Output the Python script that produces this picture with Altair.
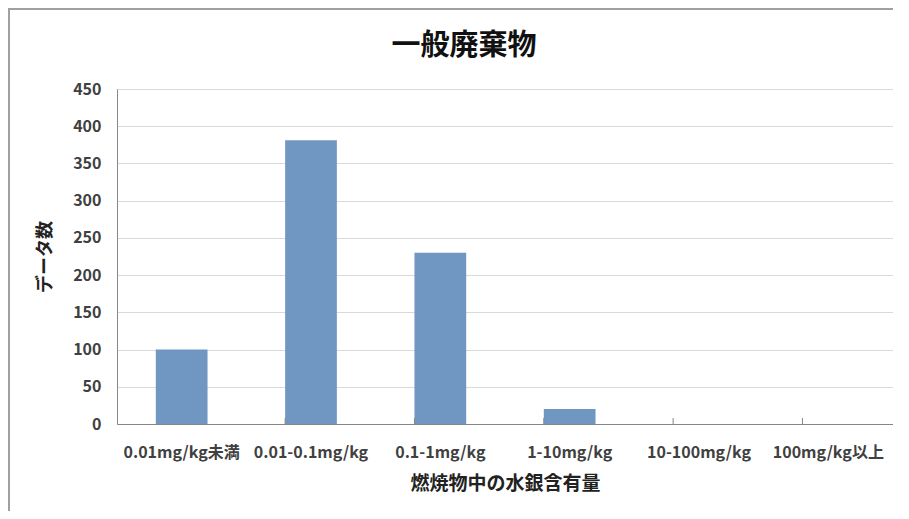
import altair as alt
import pandas as pd

title_text = ["一般廃棄物"]
categories = ["0.01mg/kg未満", "0.01-0.1mg/kg", "0.1-1mg/kg", "1-10mg/kg", "10-100mg/kg", "100mg/kg以上"]
counts = [100, 381, 230, 20, 0, 0]
y_ticks = [0, 50, 100, 150, 200, 250, 300, 350, 400, 450]

df = pd.DataFrame({"cat": categories, "n": counts})
df_ticks = pd.DataFrame({"cat": categories[1:]})
df_title = pd.DataFrame({"t": title_text})

FONT = "Noto Sans CJK JP"
GRAY = "#868686"

x_enc = alt.X("cat:N", sort=categories, title="燃焼物中の水銀含有量",
              scale=alt.Scale(paddingInner=0.6, paddingOuter=0.3),
              axis=alt.Axis(labelAngle=0, ticks=False, labelPadding=20, titlePadding=14,
                            domainColor=GRAY, labelColor="#404040", labelFontSize=16,
                            labelFontWeight="bold", titleFontSize=19, titleFontWeight="bold",
                            titleColor="#222", labelFont=FONT, titleFont=FONT))

bars = alt.Chart(df).mark_bar(color="#7097c2").encode(
    x=x_enc,
    y=alt.Y("n:Q", title="データ数", scale=alt.Scale(domain=[0, 450]),
            axis=alt.Axis(values=y_ticks, ticks=False, labelPadding=16, titlePadding=18,
                          grid=True, gridColor="#d9d9d9", domainColor=GRAY,
                          labelColor="#404040", labelFontSize=16, labelFontWeight="bold",
                          titleFontSize=18, titleFontWeight="bold", titleColor="#222",
                          labelFont=FONT, titleFont=FONT)),
)

ticks = alt.Chart(df_ticks).mark_rule(color=GRAY, strokeWidth=1).encode(
    x=alt.X("cat:N", sort=categories, bandPosition=0),
    y=alt.value(329), y2=alt.value(335),
)

title = alt.Chart(df_title).mark_text(font=FONT, fontSize=29, fontWeight="bold",
                                      color="#111", align="center", baseline="middle").encode(
    text="t:N", x=alt.value(347), y=alt.value(-43))

frame_left = alt.Chart(df_ticks).mark_rule(color="#a0a0a0", strokeWidth=2).encode(
    x=alt.value(-108), y=alt.value(-81), y2=alt.value(430))
frame_top = alt.Chart(df_ticks).mark_rule(color="#a0a0a0", strokeWidth=2).encode(
    x=alt.value(-108), x2=alt.value(800), y=alt.value(-80))

chart = alt.layer(bars, ticks, title, frame_left, frame_top).properties(
    width=776, height=335,
    padding={"left": 109, "top": 81, "right": 0, "bottom": 87},
    autosize=alt.AutoSizeParams(type="none"),
).configure_view(stroke=GRAY, strokeWidth=1.5).configure(background="white")

chart.save("out.html", embed_options={"renderer": "svg", "actions": False})
